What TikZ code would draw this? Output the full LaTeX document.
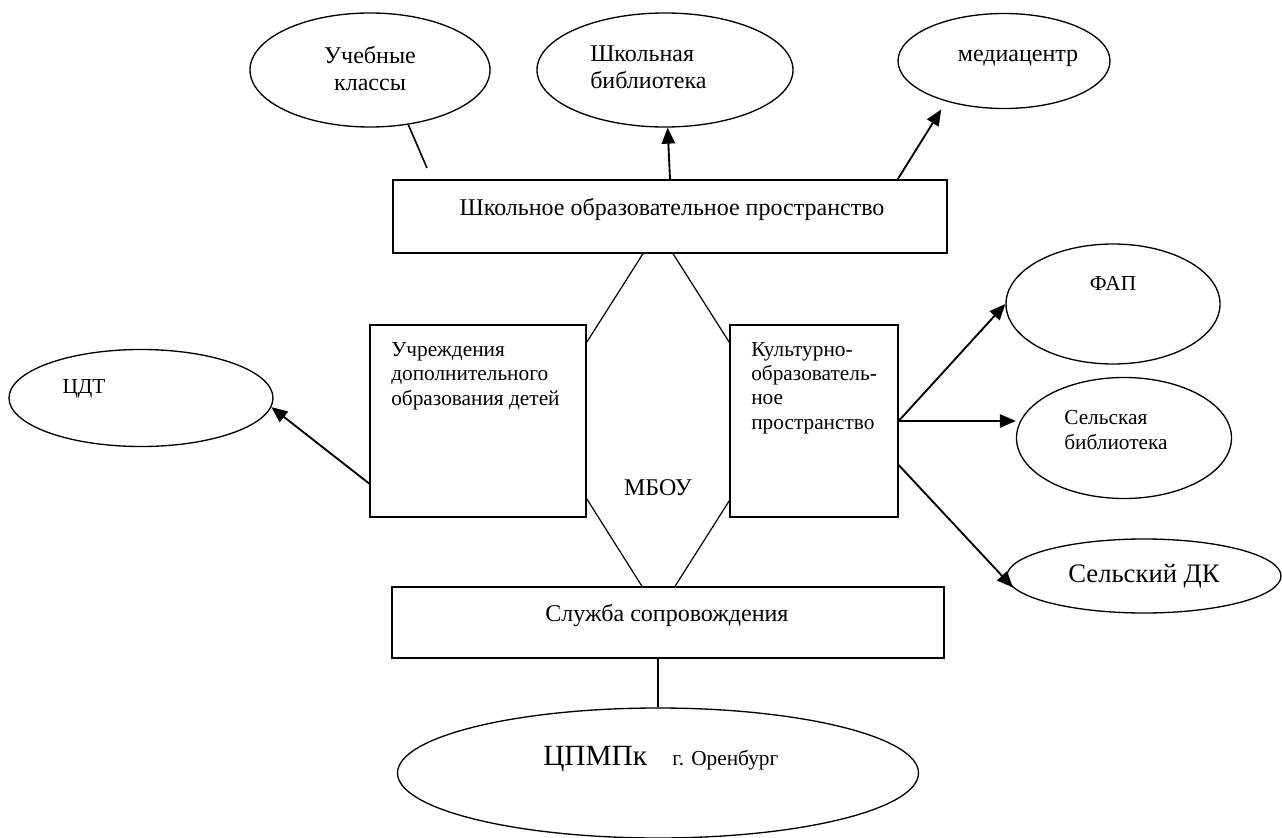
\documentclass[tikz,border=0pt]{standalone}
\usepackage{fontspec}
\setmainfont{Liberation Serif}
\usetikzlibrary{positioning,arrows.meta,shapes.geometric,calc}

\begin{document}
\begin{tikzpicture}[x=0.75pt,y=-0.75pt,every node/.style={font=\rmfamily\fontsize{16}{18.4}\selectfont},
    box/.style={draw,line width=1pt,inner sep=0pt},
    oval/.style={draw,ellipse,line width=1pt,inner sep=0pt},
    txt/.style={inner sep=0pt,align=left},
    big/.style={font=\rmfamily\fontsize{18}{20.25}\selectfont},
    link/.style={line width=.9pt},
    arr/.style={-{Triangle[length=12pt,width=10pt]},line width=1.4pt}]
    \useasboundingbox (0,0) rectangle (1282,838);
    % boxes
    \node[box,minimum width=415.5pt,minimum height=54.75pt] (shkol) at (670,216.5) {};
    \node[box,minimum width=162pt,minimum height=144pt] (udod) at (478,421) {};
    \node[box,minimum width=126pt,minimum height=144pt] (kop) at (814,421) {};
    \node[box,minimum width=414pt,minimum height=53.25pt] (sluzh) at (668,622.5) {};
    \node[txt,big,anchor=base] (shkoltxt) at (672,215) {Школьное образовательное пространство};
    \node[txt,anchor=north west] (udodtxt) at (391,342) {Учреждения\\ дополнительного\\ образования детей};
    \node[txt,anchor=north west,font=\rmfamily\fontsize{16}{18.2}\selectfont] (koptxt) at (751,342) {Культурно-\\ образователь-\\ ное\\ пространство};
    \node[txt,big,anchor=base] (sluzhtxt) at (667,621) {Служба сопровождения};
    \node[txt,big,anchor=base] (mbou) at (658,495) {МБОУ};
    % ovals
    \node[oval,minimum width=180pt,minimum height=85.5pt] (uch) at (370,70) {};
    \node[oval,minimum width=192pt,minimum height=85.5pt] (lib) at (665,70) {};
    \node[oval,minimum width=159pt,minimum height=71.25pt] (media) at (1004,61) {};
    \node[oval,minimum width=198pt,minimum height=72.75pt] (cdt) at (141,398) {};
    \node[oval,minimum width=160.5pt,minimum height=90pt] (fap) at (1113,304) {};
    \node[oval,minimum width=161.25pt,minimum height=90.75pt] (slib) at (1124,438) {};
    \node[oval,minimum width=205.5pt,minimum height=55.5pt] (sdk) at (1144,576) {};
    \node[oval,minimum width=390.75pt,minimum height=97.5pt] (cpmpk) at (658,773) {};
    \node[txt,big,anchor=north,align=center] (uchtxt) at (370,46) {Учебные\\ классы};
    \node[txt,big,anchor=north west] (libtxt) at (590,46) {Школьная\\ библиотека};
    \node[txt,big,anchor=base] (mediatxt) at (1018,62) {медиацентр};
    \node[txt,anchor=base] (cdttxt) at (84,393) {ЦДТ};
    \node[txt,anchor=base] (faptxt) at (1113,290) {ФАП};
    \node[txt,anchor=north west,font=\rmfamily\fontsize{16}{18.75}\selectfont] (slibtxt) at (1064,410) {Сельская\\ библиотека};
    \node[txt,anchor=base,font=\rmfamily\fontsize{20}{24}\selectfont] (sdktxt) at (1144,582) {Сельский ДК};
    \node[txt,anchor=base west] (cpmpktxt) at (543,765) {{\fontsize{22}{26}\selectfont ЦПМПк}\hspace{19pt}г. Оренбург};
    % connectors
    \coordinate (uchend) at (427,168);
    \draw[link,line width=1.2pt] (uch.-55) -- (uchend);
    \draw[arr] (shkol.north) -- (lib);
    \draw[arr,shorten >=7pt] ($(shkol.north east)+(-50,0)$) -- (media.215);
    \draw[link] ($(shkol.south)+(-27,0)$) -- ($(udod.north east)+(0,18)$);
    \draw[link] ($(shkol.south)+(3,0)$) -- ($(kop.north west)+(0,18)$);
    \draw[link] ($(udod.south east)+(0,-19)$) -- ($(sluzh.north)+(-26,0)$);
    \draw[link] ($(kop.south west)+(0,-17)$) -- ($(sluzh.north)+(7,0)$);
    \draw[arr] ($(udod.south west)+(0,-34)$) -- (cdt.-4);
    \draw[arr] (kop.east) -- (fap.west);
    \draw[arr] (kop.east) -- (kop.east -| slib.west);
    \draw[arr] ($(kop.east)+(0,44)$) -- (sdk.185);
    \draw[link,line width=1.3pt] (sluzh.south -| cpmpk.north) -- (cpmpk.north);
\end{tikzpicture}
\end{document}
